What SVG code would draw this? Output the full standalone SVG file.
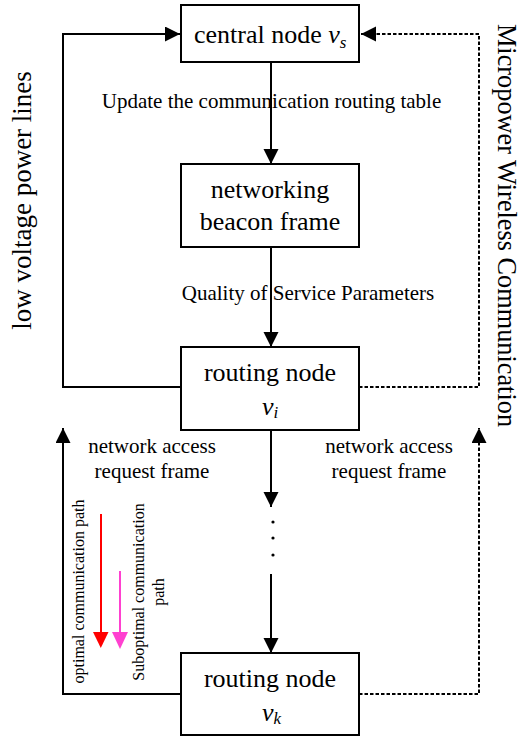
<svg xmlns="http://www.w3.org/2000/svg" width="525" height="737" viewBox="0 0 525 737">
<style>
.box{fill:#fff;stroke:#000;stroke-width:2}
.t{font-family:"Liberation Serif","Times New Roman",serif;fill:#000}
.nt{font-size:26px;text-anchor:middle}
.lb{font-size:21px;text-anchor:middle}
.sm{font-size:16px;text-anchor:middle}
.solid{fill:none;stroke:#000;stroke-width:2}
.dash{fill:none;stroke:#000;stroke-width:2;stroke-dasharray:3.5 2}
</style>
<defs>
<marker id="ah" markerUnits="userSpaceOnUse" markerWidth="16" markerHeight="16" refX="15" refY="7.5" orient="auto">
<path d="M0,0 L15,7.5 L0,15 z" fill="#000"/>
</marker>
</defs>
<g id="connectors">
<path class="solid" d="M181,387 H63 V34 H180" marker-end="url(#ah)"/>
<path class="dash" d="M359,387 H479 V34 H361" marker-end="url(#ah)"/>
<path class="solid" d="M181,694 H63 V428" marker-end="url(#ah)"/>
<path class="dash" d="M359,694 H479 V428" marker-end="url(#ah)"/>
<path class="solid" d="M271,62 V164" marker-end="url(#ah)"/>
<path class="solid" d="M271,247 V347" marker-end="url(#ah)"/>
<path class="solid" d="M271,430 V507" marker-end="url(#ah)"/>
<path class="solid" d="M271,574 V653" marker-end="url(#ah)"/>
<circle cx="273" cy="522" r="1.6" fill="#000"/>
<circle cx="273" cy="538" r="1.6" fill="#000"/>
<circle cx="273" cy="555" r="1.6" fill="#000"/>
</g>
<g id="central-node">
<rect class="box" x="181" y="5" width="178" height="57"/>
<text class="t" x="194" y="43" font-size="26">central node <tspan font-style="italic">v</tspan><tspan font-style="italic" font-size="17" dy="5">s</tspan></text>
</g>
<g id="beacon-frame">
<rect class="box" x="181" y="164" width="178" height="83"/>
<text class="t nt" x="270" y="198">networking</text>
<text class="t nt" x="270" y="230">beacon frame</text>
</g>
<g id="routing-node-i">
<rect class="box" x="181" y="347" width="178" height="83"/>
<text class="t nt" x="270" y="381">routing node</text>
<text class="t" x="262" y="415" font-size="26"><tspan font-style="italic">v</tspan><tspan font-style="italic" font-size="17" dy="3">i</tspan></text>
</g>
<g id="routing-node-k">
<rect class="box" x="181" y="653" width="178" height="82"/>
<text class="t nt" x="270" y="687">routing node</text>
<text class="t" x="262" y="721" font-size="26"><tspan font-style="italic">v</tspan><tspan font-style="italic" font-size="17" dy="3">k</tspan></text>
</g>
<g id="labels">
<text class="t lb" x="271.5" y="108">Update the communication routing table</text>
<text class="t lb" x="308" y="300">Quality of Service Parameters</text>
<text class="t lb" x="152" y="453">network access</text>
<text class="t lb" x="152" y="478">request frame</text>
<text class="t lb" x="389" y="453">network access</text>
<text class="t lb" x="389" y="478">request frame</text>
<text class="t" font-size="27" text-anchor="middle" transform="translate(31,200.5) rotate(-90)">low voltage power lines</text>
<text class="t" font-size="26.3" text-anchor="middle" transform="translate(498,225.5) rotate(90)">Micropower Wireless Communication</text>
</g>
<g id="legend">
<path d="M101,514 V634" stroke="#ff0000" stroke-width="2" fill="none"/>
<polygon points="93,632 108.5,632 100.8,648" fill="#ff0000"/>
<path d="M120,571 V634" stroke="#ff40d0" stroke-width="2" fill="none"/>
<polygon points="112,632 128,632 120,649" fill="#ff40d0"/>
<text class="t sm" transform="translate(84,591.5) rotate(-90)">optimal communication path</text>
<text class="t sm" transform="translate(144,592) rotate(-90)">Suboptimal communication</text>
<text class="t sm" transform="translate(164,592) rotate(-90)">path</text>
</g>
</svg>
